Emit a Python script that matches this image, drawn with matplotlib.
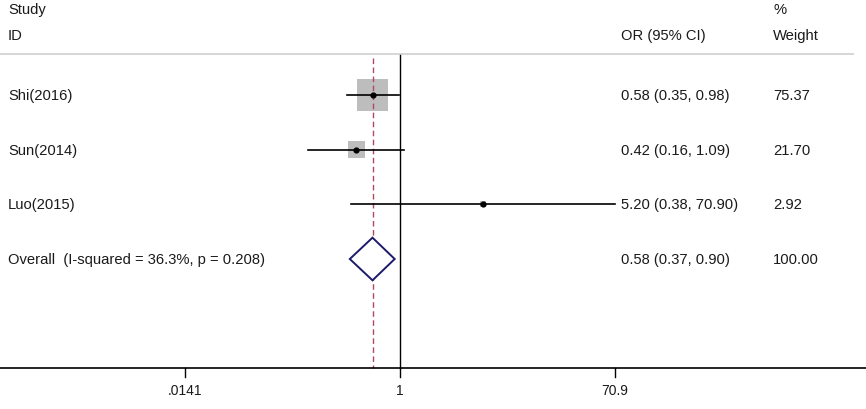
import numpy as np
import matplotlib.pyplot as plt
from matplotlib.patches import Polygon

plt.rcParams['font.family'] = ['Liberation Sans', 'DejaVu Sans']

# データ
studies = ['Shi(2016)', 'Sun(2014)', 'Luo(2015)']
odds = np.array([0.58, 0.42, 5.20])
lower = np.array([0.35, 0.16, 0.38])
upper = np.array([0.98, 1.09, 70.90])
weights = np.array([75.37, 21.70, 2.92])

overall_label = 'Overall  (I-squared = 36.3%, p = 0.208)'
overall = 0.58
overall_lo = 0.37
overall_hi = 0.90
overall_weight = 100.00

tick_vals = [0.0141, 1, 70.9]
tick_labels = ['.0141', '1', '70.9']

fig = plt.figure(figsize=(8.66, 4.10), dpi=100)
ax = fig.add_axes([0, 0, 1, 1])
ax.set_xscale('log')
ax.set_xlim(10 ** -3.442, 10 ** 4.010)
ax.set_ylim(5.744, -1.756)
ax.axis('off')

fs = 10.6
tc = '#1a1a1a'
x_or = 10 ** ((621 - 400) / 116.2)
x_w = 10 ** ((773 - 400) / 116.2)
x_lab = 10 ** ((8 - 400) / 116.2)

# ヘッダー
ax.text(x_lab, -1.57, 'Study', fontsize=fs, va='center', color=tc)
ax.text(x_lab, -1.10, 'ID', fontsize=fs, va='center', color=tc)
ax.text(x_or, -1.10, 'OR (95% CI)', fontsize=fs, va='center', color=tc)
ax.text(x_w, -1.57, '%', fontsize=fs, va='center', color=tc)
ax.text(x_w, -1.10, 'Weight', fontsize=fs, va='center', color=tc)
ax.plot([ax.get_xlim()[0], 10 ** ((854 - 400) / 116.2)], [-0.75, -0.75],
        color='#d0d0d0', lw=1.2, solid_capstyle='butt')

# 基準線
ax.plot([1, 1], [-0.74, 5], color='black', lw=1.0)
ax.plot([overall, overall], [-0.68, 5], color='#b04a5e', lw=1.0, ls=(0, (4, 2.5)))

rows = np.arange(len(studies))
for i in rows:
    ax.plot([lower[i], upper[i]], [i, i], color='black', lw=1.2, zorder=2)
    ax.text(x_lab, i, studies[i], fontsize=fs, va='center', color=tc)
    ax.text(x_or, i, '%.2f (%.2f, %.2f)' % (odds[i], lower[i], upper[i]),
            fontsize=fs, va='center', color=tc)
    ax.text(x_w, i, '%.2f' % weights[i], fontsize=fs, va='center', color=tc)

ax.scatter(odds, rows, s=530 * weights / weights.max(), marker='s',
           color='#bdbdbd', zorder=1, linewidths=0)
ax.scatter(odds, rows, s=12, color='black', zorder=3)

# 全体
yo = len(studies)
dia = Polygon([[overall_lo, yo], [overall, yo - 0.39], [overall_hi, yo], [overall, yo + 0.39]],
              closed=True, facecolor='white', edgecolor='#1c1a6b', lw=1.4, zorder=4)
ax.add_patch(dia)
ax.text(x_lab, yo, overall_label, fontsize=fs, va='center', color=tc)
ax.text(x_or, yo, '%.2f (%.2f, %.2f)' % (overall, overall_lo, overall_hi),
        fontsize=fs, va='center', color=tc)
ax.text(x_w, yo, '%.2f' % overall_weight, fontsize=fs, va='center', color=tc)

# x軸
ax.plot(ax.get_xlim(), [5, 5], color='black', lw=1.2)
for v, lab in zip(tick_vals, tick_labels):
    ax.plot([v, v], [5, 5.15], color='black', lw=1.0)
    ax.text(v, 5.4, lab, fontsize=10, ha='center', va='center', color=tc)

plt.savefig('out.png', dpi=100)
